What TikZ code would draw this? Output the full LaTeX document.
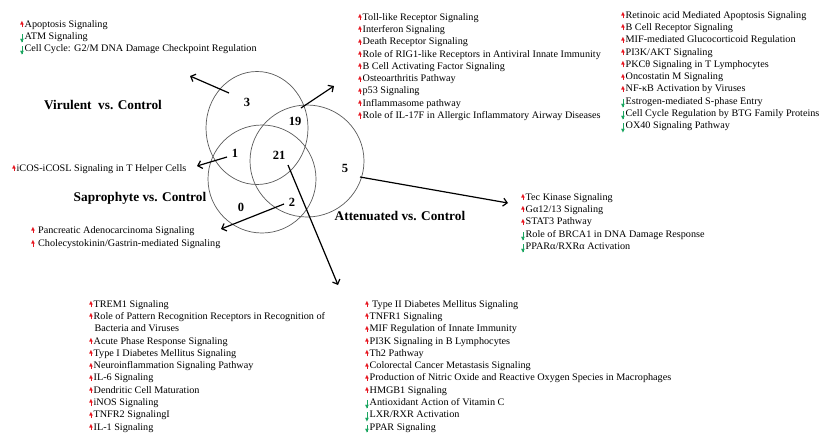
\documentclass[tikz,border=0pt]{standalone}
\usepackage{fontspec}
\usepackage{graphicx}
\setmainfont{Liberation Serif}
\newfontfamily\djv{DejaVu Sans}
\newfontfamily\lst[FakeStretch=1.02]{Liberation Serif}
\usetikzlibrary{arrows.meta}
\definecolor{upred}{RGB}{230,20,30}
\definecolor{dngreen}{RGB}{25,165,95}
\newcommand{\upa}{\textcolor{upred}{\ooalign{\hfil\rule{0.8pt}{4pt}\hfil\cr\raisebox{2.6pt}{\djv\fontsize{5}{5}\selectfont ▲}\cr}}\hspace{0.6pt}}
\newcommand{\dna}{\textcolor{dngreen}{\ooalign{\hfil\rule[-2.5pt]{0.8pt}{8pt}\hfil\cr\raisebox{-3.2pt}{\djv\fontsize{5}{5}\selectfont ▼}\cr}}\hspace{0.6pt}}
\newcommand{\dnb}{\textcolor{dngreen}{\ooalign{\hfil\rule[-1.5pt]{0.8pt}{7pt}\hfil\cr\raisebox{-2.2pt}{\djv\fontsize{5}{5}\selectfont ▼}\cr}}\hspace{0.6pt}}
\newcommand{\ind}{\hphantom{\upa}\hspace{1pt}}
\begin{document}
\begin{tikzpicture}[x=1pt,y=-1pt,
  list/.style={anchor=north west,inner sep=0pt,align=left,
    font=\lst\fontsize{10}{12.3}\selectfont},
  grp/.style={font=\fontsize{13.3}{15}\selectfont\bfseries,inner sep=0pt},
  num/.style={font=\fontsize{12.5}{14}\selectfont\bfseries,inner sep=0pt},
  ring/.style={draw=black!65,line width=0.7pt},
  link/.style={draw=black,line width=1.2pt,-{Straight Barb[length=4pt,width=8pt,line width=1.2pt]}}]
\useasboundingbox (0,0) rectangle (822,432);
% Venn
\draw[ring] (257,128) ellipse [x radius=51, y radius=56.5];
\draw[ring] (262,179) ellipse [x radius=54, y radius=54];
\draw[ring] (307,161) ellipse [x radius=57, y radius=56];
% numbers
\node[num] (n3) at (247,102) {3};
\node[num] (n19) at (295,121) {19};
\node[num] (n1) at (235,153) {1};
\node[num] (n21) at (279,155) {21};
\node[num] (n5) at (345,168) {5};
\node[num] (n0) at (241,207) {0};
\node[num] (n2) at (292,202) {2};
% group labels
\node[grp] (gv) at (103,105) {Virulent\ \ vs. Control};
\node[grp] (gs) at (140,198) {Saprophyte vs. Control};
\node[grp] (ga) at (400,216) {Attenuated vs. Control};
% lists
\node[list] (l1) at (20,20) {\upa Apoptosis Signaling\\
\dna ATM Signaling\\
\dna Cell Cycle: G2/M DNA Damage Checkpoint Regulation};
\node[list] (l2) at (358,13) {\upa Toll-like Receptor Signaling\\
\upa Interferon Signaling\\
\upa Death Receptor Signaling\\
\upa Role of RIG1-like Receptors in Antiviral Innate Immunity\\
\upa B Cell Activating Factor Signaling\\
\upa Osteoarthritis Pathway\\
\upa p53 Signaling\\
\upa Inflammasome pathway\\
\upa Role of IL-17F in Allergic Inflammatory Airway Diseases};
\node[list] (l3) at (621,11) {\upa Retinoic acid Mediated Apoptosis Signaling\\
\upa B Cell Receptor Signaling\\
\upa MIF-mediated Glucocorticoid Regulation\\
\upa PI3K/AKT Signaling\\
\upa PKCθ Signaling in T Lymphocytes\\
\upa Oncostatin M Signaling\\
\upa NF-κB Activation by Viruses\\
\dna Estrogen-mediated S-phase Entry\\
\dna Cell Cycle Regulation by BTG Family Proteins\\
\dna OX40 Signaling Pathway};
\node[list] (l4) at (12,164) {\upa iCOS-iCOSL Signaling in T Helper Cells};
\node[list,font=\lst\fontsize{10}{13.4}\selectfont] (l5) at (31,226) {\upa\ Pancreatic Adenocarcinoma Signaling\\
\upa\ Cholecystokinin/Gastrin-mediated Signaling};
\node[list] (l6) at (521,193) {\upa Tec Kinase Signaling\\
\upa Gα12/13 Signaling\\
\upa STAT3 Pathway\\
\dna Role of BRCA1 in DNA Damage Response\\
\dna PPARα/RXRα Activation};
\node[list] (l7) at (89,300) {\upa TREM1 Signaling\\
\upa Role of Pattern Recognition Receptors in Recognition of\\
\ind Bacteria and Viruses\\
\upa Acute Phase Response Signaling\\
\upa Type I Diabetes Mellitus Signaling\\
\upa Neuroinflammation Signaling Pathway\\
\upa IL-6 Signaling\\
\upa Dendritic Cell Maturation\\
\upa iNOS Signaling\\
\upa TNFR2 SignalingI\\
\upa IL-1 Signaling};
\node[list] (l8) at (365,300) {\upa\ Type II Diabetes Mellitus Signaling\\
\upa TNFR1 Signaling\\
\upa MIF Regulation of Innate Immunity\\
\upa PI3K Signaling in B Lymphocytes\\
\upa Th2 Pathway\\
\upa Colorectal Cancer Metastasis Signaling\\
\upa Production of Nitric Oxide and Reactive Oxygen Species in Macrophages\\
\upa HMGB1 Signaling\\
\dna Antioxidant Action of Vitamin C\\
\dna LXR/RXR Activation\\
\dnb PPAR Signaling};
% connector end points
\coordinate (s3) at (229,93);  \coordinate (e3) at (190,76);
\coordinate (s19) at (301,108); \coordinate (e19) at (334,86);
\coordinate (s1) at (227,157); \coordinate (e1) at (197,166);
\coordinate (s2) at (284,204); \coordinate (e2) at (221,229);
\coordinate (s21) at (288,165); \coordinate (e21) at (338,285);
\coordinate (s5) at (360,177); \coordinate (e5) at (508,203);
\draw[link] (s3) -- (e3);
\draw[link] (s19) -- (e19);
\draw[link] (s1) -- (e1);
\draw[link] (s2) -- (e2);
\draw[link] (s21) -- (e21);
\draw[link] (s5) -- (e5);
\end{tikzpicture}
\end{document}
